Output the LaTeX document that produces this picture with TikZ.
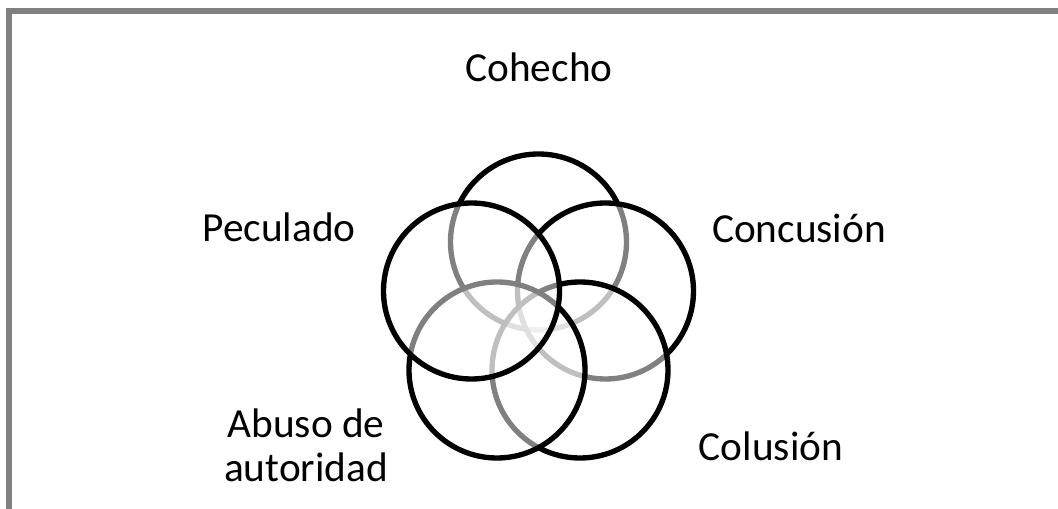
\documentclass[tikz,border=0pt]{standalone}
\usepackage{fontspec}
\setmainfont{Carlito}
\begin{document}
\begin{tikzpicture}[x=0.75pt,y=-0.75pt,
  ring/.style={draw=black,line width=4pt,fill=white,fill opacity=0.5,draw opacity=1},
  lbl/.style={font=\fontsize{31}{33}\selectfont,inner sep=0pt,anchor=base,text=black},
  frame/.style={draw=black!50,line width=4.5pt}]
\useasboundingbox (0,0) rectangle (1058,509);
\draw[frame] (9,509) -- (9,11) -- (1058,11);
\coordinate (c) at (538.5,313);
\coordinate (p1) at (538.5,242);
\coordinate (p2) at (605.5,291);
\coordinate (p3) at (580,370);
\coordinate (p4) at (497,370);
\coordinate (p5) at (471.5,291);
\path[ring] (p1) circle[radius=88];
\path[ring] (p2) circle[radius=88];
\path[ring] (p3) circle[radius=88];
\path[ring] (p4) circle[radius=88];
\path[ring] (p5) circle[radius=88];
\node[lbl] (t1) at (539,82) {Cohecho};
\node[lbl] (t2) at (799,243) {Concusión};
\node[lbl] (t3) at (771,461) {Colusión};
\node[lbl,align=center] (t4) at (306,482) {Abuso de\\autoridad};
\node[lbl] (t5) at (279,242) {Peculado};
\end{tikzpicture}
\end{document}
